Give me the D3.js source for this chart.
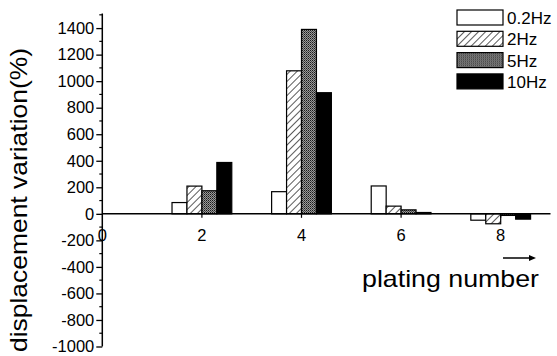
<!DOCTYPE html>
<html>
<head>
<meta charset="utf-8">
<script src="https://cdn.jsdelivr.net/npm/d3@7"></script>
<style>
  html, body { margin: 0; padding: 0; background: #fff; }
  svg { display: block; }
  text { font-family: "Liberation Sans", Arial, Helvetica, sans-serif; fill: #000; }
</style>
</head>
<body>
<svg id="chart" width="557" height="356"></svg>
<script>
// Plating numbers where bars are drawn
const platings = [2, 4, 6, 8];
// Frequency series
const seriesNames = ["0.2Hz", "2Hz", "5Hz", "10Hz"];
const hz02 = [85, 167, 210, -48];
const hz2 = [209, 1078, 58, -75];
const hz5 = [174, 1390, 30, -12];
const hz10 = [387, 913, 10, -40];
const seriesValues = [hz02, hz2, hz5, hz10];
// Axis ticks
const yMajorTicks = [-1000, -800, -600, -400, -200, 0, 200, 400, 600, 800, 1000, 1200, 1400];
const xTickLabels = [0, 2, 4, 6, 8];

const svg = d3.select("#chart");

// Hatch and dotted fills
const defs = svg.append("defs");
const hatch = defs.append("pattern")
  .attr("id", "hatch").attr("patternUnits", "userSpaceOnUse")
  .attr("width", 5).attr("height", 5)
  .attr("patternTransform", "rotate(45)");
hatch.append("rect").attr("width", 5).attr("height", 5).attr("fill", "#fff");
hatch.append("line").attr("x1", 0).attr("y1", 0).attr("x2", 0).attr("y2", 5)
  .attr("stroke", "#000").attr("stroke-width", 1.3);

const dots = defs.append("pattern")
  .attr("id", "dots").attr("patternUnits", "userSpaceOnUse")
  .attr("width", 2).attr("height", 2);
dots.append("rect").attr("width", 2).attr("height", 2).attr("fill", "#9a9a9a");
dots.append("rect").attr("width", 1).attr("height", 1).attr("fill", "#1a1a1a");
dots.append("rect").attr("x", 1).attr("y", 1).attr("width", 1).attr("height", 1).attr("fill", "#4a4a4a");

const fills = ["#fff", "url(#hatch)", "url(#dots)", "#000"];

// Scales
const x = d3.scaleLinear().domain([0, 9]).range([102.3, 550.5]);
const y = d3.scaleLinear().domain([-1000, 1510]).range([346.5, 13.5]);

const barW = 0.3;            // bar width in plating units
const offsets = [-0.6, -0.3, 0, 0.3]; // left edge of each series bar relative to group centre

// Bars
seriesValues.forEach((vals, si) => {
  svg.append("g").selectAll("rect")
    .data(vals.map((v, i) => ({ p: platings[i], v })))
    .join("rect")
    .attr("x", d => x(d.p + offsets[si]))
    .attr("width", d => x(d.p + offsets[si] + barW) - x(d.p + offsets[si]))
    .attr("y", d => y(Math.max(0, d.v)))
    .attr("height", d => Math.abs(y(d.v) - y(0)))
    .attr("fill", fills[si])
    .attr("stroke", "#000")
    .attr("stroke-width", 1.2);
});

// Y axis with major and minor ticks (plain hyphen for negatives)
const yAxis = d3.axisLeft(y).tickValues(yMajorTicks).tickSize(6).tickPadding(2)
  .tickFormat(d => String(d));
const gy = svg.append("g").attr("transform", `translate(${x(0)},0)`).call(yAxis);
gy.select(".domain").remove();
gy.selectAll(".tick line").attr("stroke", "#000").attr("stroke-width", 1.3);
gy.selectAll(".tick text").attr("font-size", 16.5).attr("font-family", "Liberation Sans, Arial, sans-serif")
  .attr("fill", "#000");
const yMinor = d3.range(-900, 1600, 200);
svg.append("g").selectAll("line").data(yMinor).join("line")
  .attr("x1", x(0) - 3).attr("x2", x(0))
  .attr("y1", d => y(d)).attr("y2", d => y(d))
  .attr("stroke", "#000").attr("stroke-width", 1.2);
svg.append("line")
  .attr("x1", x(0)).attr("x2", x(0))
  .attr("y1", y(1510)).attr("y2", y(-1000))
  .attr("stroke", "#000").attr("stroke-width", 1.5);

// X axis drawn along the zero line
svg.append("line")
  .attr("x1", x(0)).attr("x2", x(9))
  .attr("y1", y(0)).attr("y2", y(0))
  .attr("stroke", "#000").attr("stroke-width", 1.5);
svg.append("g").selectAll("line").data(platings).join("line")
  .attr("x1", d => x(d)).attr("x2", d => x(d))
  .attr("y1", y(0)).attr("y2", y(0) + 4)
  .attr("stroke", "#000").attr("stroke-width", 1.2);
svg.append("g").selectAll("text").data(xTickLabels).join("text")
  .attr("x", d => x(d)).attr("y", y(0) + 27)
  .attr("text-anchor", "middle").attr("font-size", 16.5)
  .text(d => d);

// Axis titles
svg.append("text")
  .attr("transform", `translate(27,200) rotate(-90)`)
  .attr("text-anchor", "middle").attr("font-size", 24)
  .attr("textLength", 304).attr("lengthAdjust", "spacingAndGlyphs")
  .text("displacement variation(%)");
svg.append("text")
  .attr("x", 362).attr("y", 287)
  .attr("font-size", 24)
  .attr("textLength", 177).attr("lengthAdjust", "spacingAndGlyphs")
  .text("plating number");

// Direction arrow
svg.append("line")
  .attr("x1", 503).attr("x2", 531).attr("y1", 258).attr("y2", 258)
  .attr("stroke", "#000").attr("stroke-width", 1.5);
svg.append("path")
  .attr("d", "M536,258 L529,255 L529,261 Z").attr("fill", "#000");

// Legend
const legend = svg.append("g").selectAll("g").data(seriesNames).join("g")
  .attr("transform", (d, i) => `translate(457,${10 + i * 21.3})`);
legend.append("rect")
  .attr("width", 46).attr("height", 15)
  .attr("fill", (d, i) => fills[i])
  .attr("stroke", "#000").attr("stroke-width", 1.2);
legend.append("text")
  .attr("x", 50).attr("y", 14)
  .attr("font-size", 17)
  .text(d => d);
</script>
</body>
</html>
